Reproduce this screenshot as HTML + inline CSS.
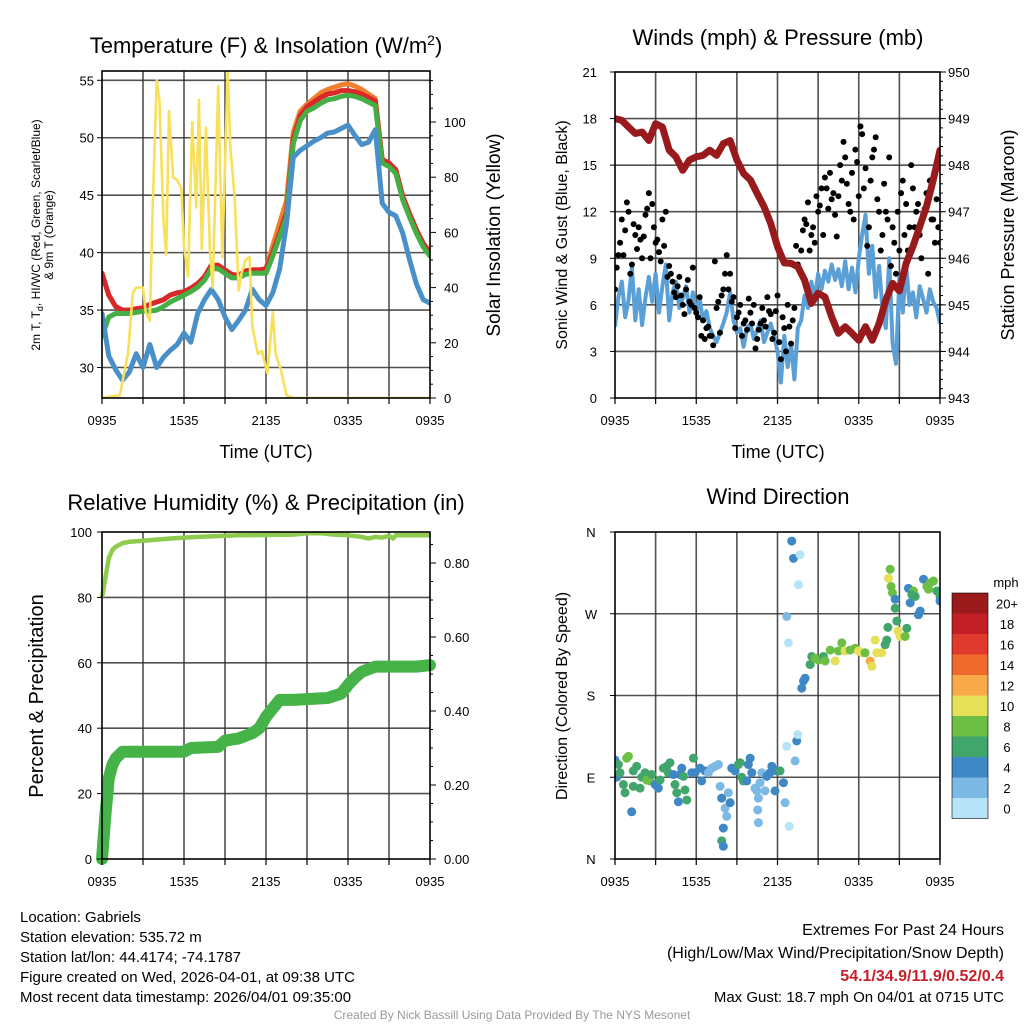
<!DOCTYPE html>
<html><head><meta charset="utf-8">
<style>
html,body{margin:0;padding:0;background:#fff;}
svg{display:block;font-family:"Liberation Sans",sans-serif;}
</style></head>
<body>
<svg id="c" width="1024" height="1024" viewBox="0 0 1024 1024"></svg>
<script>
// ---------- DATA ----------
const xTickLabels = ["0935","1535","2135","0335","0935"];
const xTickHours = [0,6,12,18,24];
// Temperature panel (0.5h step)
const tempGreen = [32.7,34.4,34.7,34.7,34.7,34.8,34.9,34.9,35.0,35.3,35.7,36.0,36.3,36.6,37.0,37.6,38.6,38.6,38.2,37.8,37.8,38.1,38.2,38.2,38.2,39.7,41.4,43.1,49.5,51.5,52.3,52.6,53.0,53.3,53.4,53.6,53.7,53.6,53.4,53.1,52.8,47.8,47.5,46.9,44.6,43.1,41.7,40.5,39.7];
const tempRed = [38.2,36.3,35.3,35.0,35.0,35.1,35.2,35.5,35.7,35.9,36.3,36.5,36.6,36.9,37.3,37.9,38.9,38.9,38.5,38.1,38.0,38.4,38.5,38.5,38.6,40.0,41.7,43.5,49.9,51.9,52.7,53.1,53.5,53.8,53.9,54.1,54.1,54.0,53.8,53.5,53.2,48.1,47.8,47.2,44.9,43.4,42.0,40.8,40.0];
const tempOrange = [38.2,36.3,35.3,35.0,35.0,35.1,35.2,35.5,35.7,35.9,36.3,36.5,36.6,36.9,37.3,37.9,38.9,38.9,38.5,38.1,38.0,38.4,38.5,38.5,38.6,40.6,42.6,44.5,50.5,52.3,52.9,53.4,53.9,54.2,54.4,54.6,54.7,54.5,54.2,53.8,53.4,48.1,47.8,47.2,44.9,43.4,42.0,40.8,40.0];
const dewBlue = [34.7,31.0,29.8,28.9,29.6,31.2,30.0,32.0,30.0,30.9,31.5,32.0,33.0,32.2,34.7,35.9,36.8,35.9,34.4,33.3,34.1,35.0,36.8,35.9,35.4,36.5,38.6,42.5,48.3,48.9,49.3,49.7,50.0,50.4,50.5,50.8,51.1,50.2,49.4,49.6,50.7,44.3,43.5,43.2,41.7,39.4,37.3,35.9,35.6];
const solarHours = [0,1.3,1.9,2.25,2.5,3,3.2,3.5,3.7,4,4.2,4.5,4.7,4.9,5.2,5.5,5.8,6,6.3,6.6,6.9,7.1,7.3,7.6,7.9,8.1,8.5,8.8,9.2,9.4,9.7,10,10.2,10.5,10.8,11,11.4,11.7,12.1,12.5,12.7,13.1,13.5,14,24];
const solarValues = [0,1,16,38,40,40,31,28,68,115,108,64,52,104,80,79,76,55,44,100,69,108,54,98,53,40,113,51,118,90,73,39,45,50,51,26,16,17,9,31,16,10,1,0,0];
const tempTicks = [30,35,40,45,50,55];
const solarTicks = [0,20,40,60,80,100];
// Winds panel
const windSpeed = [4.6,6.5,7.5,5.2,6.3,8.4,5.0,7.0,4.7,
6.5,7.8,6.2,8.0,5.5,7.2,8.6,5.0,
6.8,7.5,5.8,6.4,7.2,5.5,6.8,5.4,
6.4,5.0,5.6,4.5,4.0,3.6,4.2,4.8,
5.5,6.8,5.0,4.2,4.5,3.3,4.5,4.8,
3.8,4.4,5.0,3.6,4.2,4.8,4.0,3.0,
1.0,4.0,2.0,3.5,1.2,4.5,5.0,6.6,
5.8,7.5,6.4,8.0,7.0,8.2,7.5,8.6,
7.6,8.3,7.2,8.8,7.0,8.4,6.8,9.0,
10.5,11.8,8.0,9.8,6.5,8.5,5.8,4.5,
9.0,3.5,2.2,7.8,5.5,8.6,6.0,6.8,
5.2,7.2,6.4,5.5,7.0,6.2,5.8,4.8];
const gustA = [7.0,9.2,11.5,10.8,12.0,8.6,10.5,11.0,9.0,
11.8,13.2,12.5,10.0,9.4,11.5,12.0,8.5,
7.5,6.5,7.8,6.0,7.0,6.2,8.4,5.5,
6.5,5.0,4.5,4.0,3.4,5.8,4.2,7.0,
9.2,8.0,6.5,5.2,6.0,4.8,4.4,5.5,
6.0,3.8,4.8,5.0,6.5,5.4,4.2,6.6,
2.5,4.5,6.0,3.5,5.8,8.6,9.5,11.5,
12.6,10.5,10.0,12.0,13.5,14.2,12.2,12.8,
11.8,13.0,14.0,15.5,12.5,14.5,16.0,13.0,
17.0,14.8,11.0,15.5,16.8,12.0,10.5,12.0,
15.5,11.0,8.0,9.5,14.0,12.5,11.0,13.5,
12.0,10.5,11.8,13.2,14.0,11.5,12.8,10.0];
const gustB = [8.4,10.0,9.2,12.6,8.0,11.2,9.6,10.2,
10.4,12.2,9.0,11.0,10.2,8.8,9.8,7.8,
8.0,6.8,7.2,6.6,5.4,7.6,6.0,5.8,
5.2,4.0,3.8,4.6,4.0,8.8,6.2,6.6,
8.0,7.0,6.2,4.5,5.5,4.0,5.0,6.4,
4.8,3.2,4.4,5.8,4.6,5.6,3.8,5.6,
3.6,5.2,3.0,4.6,5.0,9.8,8.2,10.8,
11.2,9.5,11.0,13.0,12.4,10.5,13.5,14.5,
13.2,10.4,15.0,16.5,13.8,12.0,11.5,15.2,
17.5,13.5,9.8,14.0,16.0,12.8,9.5,13.8,
11.5,8.5,10.0,12.0,13.2,10.5,9.5,15.0,
11.0,12.5,9.0,12.2,8.0,11.5,10.0,11.0];
const pressure = [949.0,948.96,948.82,948.68,948.71,948.53,948.89,948.82,948.32,948.18,947.89,948.11,948.18,948.21,948.32,948.21,948.46,948.53,948.11,947.82,947.68,947.39,947.11,946.75,946.25,945.9,945.89,945.82,945.53,945.03,945.25,945.17,944.74,944.39,944.53,944.39,944.24,944.53,944.24,944.60,945.10,945.46,945.3,945.89,946.25,946.68,947.11,947.68,948.32];
const windTicks = [0,3,6,9,12,15,18,21];
const presTicks = [943,944,945,946,947,948,949,950];
// RH / precip panel
const rhHours = [0,0.25,0.5,0.75,1,1.5,2,3,5,7,10,14,15,16,17,18,19,19.5,20,20.5,21,21.3,21.5,22,24];
const rhValues = [80,86,92,94.5,95.5,96.6,97,97.3,98,98.5,99,99.2,99.6,99.6,99.2,99,98.5,98,98.5,98.3,98.8,98,99,99,99];
const pcpHours = [0,0.25,0.5,0.75,1,1.5,6,6.5,8.5,9,10,11,11.5,12,12.5,13,14,16.5,17.5,18,18.5,19,20,23,24];
const pcpValues = [0,0.119,0.218,0.254,0.272,0.29,0.29,0.30,0.303,0.32,0.326,0.34,0.353,0.384,0.407,0.43,0.43,0.435,0.447,0.47,0.49,0.506,0.52,0.52,0.524];
const rhTicks = [0,20,40,60,80,100];
const pcpTicks = [0,0.2,0.4,0.6,0.8];
// Wind direction panel
const dirHours = [0,0.25,0.12,0.37,0.86,0.99,0.62,0.74,1.23,1.35,1.6,1.35,1.85,1.97,2.22,2.34,2.59,2.71,2.96,3.2,3.33,3.57,3.82,3.94,4.06,4.31,4.43,4.56,4.68,4.8,5.05,5.17,5.3,4.93,5.67,5.79,5.91,6.28,6.4,6.65,6.9,7.14,7.39,7.64,7.76,7.88,8.13,8.25,8.37,8.5,8.0,7.88,8.0,8.62,8.87,9.11,9.24,9.36,9.48,9.73,9.85,9.98,10.1,10.34,10.47,10.59,10.71,10.84,10.54,10.59,11.08,11.21,11.45,11.58,11.82,11.95,12.19,12.44,12.56,12.68,12.86,13.3,13.42,13.5,12.68,12.81,13.05,13.18,13.67,13.55,14.04,13.92,13.79,14.41,14.53,14.78,15.02,15.39,15.52,15.89,16.26,16.75,16.5,16.99,17.36,17.73,17.98,18.23,18.47,18.84,18.97,19.21,19.33,19.7,19.95,20.07,20.15,20.89,21.06,21.43,21.55,20.69,20.81,20.32,20.2,20.39,20.49,20.69,21.67,21.8,22.04,22.17,22.41,22.54,22.78,23.03,23.28,23.52,23.77,24.0,24.0,22.41,21.92,23.15];
const dirDegrees = [109,104,90,95,111,113,82,73,52,97,102,80,78,90,95,87,86,93,82,78,87,100,102,95,106,93,82,73,63,93,91,76,65,100,95,111,95,100,86,97,95,100,102,104,80,67,56,47,73,62,34,20,14,100,97,104,106,90,86,86,104,111,95,78,75,67,84,95,54,40,75,91,95,102,75,97,97,84,62,124,36,108,130,137,267,238,350,331,335,302,199,196,188,214,223,221,219,223,218,230,218,238,229,229,230,232,229,227,227,218,212,241,227,227,236,241,255,251,245,245,254,276,262,319,309,300,293,286,298,282,295,289,269,273,308,300,304,306,295,289,284,269,291,297];
const dirSpeed = [4,6,4,6,8,8,6,6,4,6,6,6,6,6,6,8,8,6,4,4,6,6,6,6,6,4,6,6,4,4,6,6,6,4,4,6,4,4,4,4,2,2,2,2,2,4,2,2,2,4,4,6,4,4,4,6,6,6,6,4,4,4,4,2,2,2,2,2,2,2,2,4,4,4,4,4,6,4,2,0,0,2,4,0,2,0,4,4,0,0,4,4,4,6,6,8,8,6,8,8,10,8,8,10,8,8,10,10,8,12,10,10,10,10,6,6,6,10,10,8,6,6,6,8,10,8,8,4,4,4,8,6,4,4,4,8,8,8,6,6,4,4,6,8,8];
const dirTickLabels = ["N","E","S","W","N"];
const dirTickValues = [0,90,180,270,360];
const speedColors = ["#b6e3f7","#7cb9e4","#3f88c6","#41a66b","#6cbe45","#e6df58","#f8aa49","#ef6b2d","#e0392e","#c21f26","#9b1b1c"];
const speedLabels = ["0","2","4","6","8","10","12","14","16","18","20+"];

// ---------- HELPERS ----------
const NS="http://www.w3.org/2000/svg";
const svg=document.getElementById('c');
function el(tag,attrs,parent){const e=document.createElementNS(NS,tag);for(const k in attrs)e.setAttribute(k,attrs[k]);(parent||svg).appendChild(e);return e;}
function txt(s,x,y,size,anchor,parent,extra){const t=el('text',Object.assign({x:x,y:y,'font-size':size,'text-anchor':anchor||'middle',fill:'#000'},extra||{}),parent);t.textContent=s;return t;}
function lin(d0,d1,r0,r1){return v=>r0+(v-d0)*(r1-r0)/(d1-d0);}

function frame(g,L,T,R,B,vgrid,hgridYs){
  vgrid.forEach(x=>{const l=el('line',{x1:x,x2:x,y1:T,y2:B,stroke:'#333','stroke-width':1.6,'stroke-opacity':0.85},g);
    });
  hgridYs.forEach(y=>{const l=el('line',{x1:L,x2:R,y1:y,y2:y,stroke:'#333','stroke-width':1.6,'stroke-opacity':0.85},g);
    });
}
function border(g,L,T,R,B){const r=el('rect',{x:L,y:T,width:R-L,height:B-T,fill:'none',stroke:'#000','stroke-width':1.6},g);
  }
function xAxis(g,L,R,B,xs){
  xTickHours.forEach((h,i)=>{txt(xTickLabels[i],xs(h),B+27,13,'middle',g);});
  for(let h=0;h<=24;h+=3){el('line',{x1:xs(h),x2:xs(h),y1:B,y2:B+6,stroke:'#000','stroke-width':1.2},g);}
}
function pathFrom(xsArr,ysArr,xs,ys){let d='';xsArr.forEach((h,i)=>{d+=(i?'L':'M')+xs(h).toFixed(1)+','+ys(ysArr[i]).toFixed(1);});return d;}
const halfHours=tempGreen.map((_,i)=>i*0.5);

// ---------- PANEL 1 ----------
(function(){
  const L=102,R=430,T=71,B=398;
  const g=el('g',{});
  const xs=lin(0,24,L,R), ys=lin(30,55,367.5,80.3), ysR=lin(0,100,398,122);
  frame(g,L,T,R,B,[1,2,3,4,5,6,7].map(i=>xs(i*3)),tempTicks.map(ys));
  const clip=el('clipPath',{id:'cp1'},g);el('rect',{x:L,y:T,width:R-L,height:B-T},clip);
  const pg=el('g',{'clip-path':'url(#cp1)'},g);
  [[tempOrange,'#f07f2e','orange-9m-temp-line'],[tempRed,'#d8282a','red-2m-temp-line'],[tempGreen,'#45ae45','green-heat-index-line'],[dewBlue,'#4a90c8','blue-dewpoint-line']].forEach(s=>{
    const p=el('path',{d:pathFrom(halfHours,s[0],xs,ys),fill:'none',stroke:s[1],'stroke-width':5,'stroke-linejoin':'round','stroke-linecap':'round'},pg);
    
  });
  const sp=el('path',{d:pathFrom(solarHours,solarValues,xs,ysR),fill:'none',stroke:'#f8e05a','stroke-width':2.6,'stroke-linejoin':'round'},pg);
  
  border(g,L,T,R,B);
  tempTicks.forEach(v=>{txt(String(v),94,ys(v)+5,13,'end',g);el('line',{x1:L-5,x2:L,y1:ys(v),y2:ys(v),stroke:'#000'},g);});
  solarTicks.forEach(v=>{txt(String(v),444,ysR(v)+5,13,'start',g);el('line',{x1:R,x2:R+6,y1:ysR(v),y2:ysR(v),stroke:'#000'},g);});
  for(let v=5;v<=115;v+=5){if(v%20)el('line',{x1:R,x2:R+3,y1:ysR(v),y2:ysR(v),stroke:'#000'},g);}
  xAxis(g,L,R,B,xs);
  const t=el('text',{x:266,y:53,'font-size':22,'text-anchor':'middle'},g);
  t.innerHTML='Temperature (F) &amp; Insolation (W/m<tspan dy="-8" font-size="14">2</tspan><tspan dy="8">)</tspan>';
  const xl=txt('Time (UTC)',266,458,18,'middle',g);
  const yl=el('text',{transform:'translate(40,235) rotate(-90)','font-size':12,'text-anchor':'middle'},g);
  
  yl.innerHTML='2m T, T<tspan dy="3" font-size="9">d</tspan><tspan dy="-3">, HI/WC (Red, Green, Scarlet/Blue)</tspan>';
  const yl2=el('text',{transform:'translate(53,235) rotate(-90)','font-size':12,'text-anchor':'middle'},g);yl2.textContent='& 9m T (Orange)';
  
  const yr=el('text',{transform:'translate(500,235) rotate(-90)','font-size':19,'text-anchor':'middle'},g);yr.textContent='Solar Insolation (Yellow)';
  
})();

// ---------- PANEL 2 ----------
(function(){
  const L=615,R=940,T=72,B=398;
  const g=el('g',{});
  const xs=lin(0,24,L,R), ys=lin(0,21,B,T), ysR=lin(943,950,B,T);
  frame(g,L,T,R,B,[1,2,3,4,5,6,7].map(i=>xs(i*3)),windTicks.slice(1,7).map(ys));
  const clip=el('clipPath',{id:'cp2'},g);el('rect',{x:L,y:T,width:R-L,height:B-T},clip);
  const pg=el('g',{'clip-path':'url(#cp2)'},g);
  const wh=windSpeed.map((_,i)=>i*0.25);
  const wp=el('path',{d:pathFrom(wh,windSpeed,xs,ys),fill:'none',stroke:'#5a9fd6','stroke-width':4,'stroke-linejoin':'round'},pg);
  
  gustA.forEach((v,i)=>{const c=el('circle',{cx:xs(i*0.25),cy:ys(v),r:3,fill:'#000'},pg);
    });
  gustB.forEach((v,i)=>{const c=el('circle',{cx:xs(0.125+i*0.25),cy:ys(v),r:3,fill:'#000'},pg);
    });
  const pp=el('path',{d:pathFrom(halfHours,pressure,xs,ysR),fill:'none',stroke:'#981a1d','stroke-width':7,'stroke-linejoin':'round','stroke-linecap':'round'},pg);
  
  border(g,L,T,R,B);
  windTicks.forEach(v=>{txt(String(v),597,ys(v)+5,13,'end',g);el('line',{x1:L-5,x2:L,y1:ys(v),y2:ys(v),stroke:'#000'},g);});
  presTicks.forEach(v=>{txt(String(v),948,ysR(v)+5,13,'start',g);el('line',{x1:R,x2:R+6,y1:ysR(v),y2:ysR(v),stroke:'#000'},g);});
  for(let v=943.2;v<950;v+=0.2){el('line',{x1:R,x2:R+3,y1:ysR(v),y2:ysR(v),stroke:'#000'},g);}
  xAxis(g,L,R,B,xs);
  txt('Winds (mph) & Pressure (mb)',778,45,22,'middle',g);
  txt('Time (UTC)',778,458,18,'middle',g);
  const yl=el('text',{transform:'translate(567,235) rotate(-90)','font-size':16,'text-anchor':'middle'},g);yl.textContent='Sonic Wind & Gust (Blue, Black)';
  
  const yr=el('text',{transform:'translate(1014,235) rotate(-90)','font-size':18,'text-anchor':'middle'},g);yr.textContent='Station Pressure (Maroon)';
  
})();

// ---------- PANEL 3 ----------
(function(){
  const L=102,R=430,T=532,B=859;
  const g=el('g',{});
  const xs=lin(0,24,L,R), ys=lin(0,100,B,T), ysR=lin(0,0.8,B,563);
  frame(g,L,T,R,B,[1,2,3,4,5,6,7].map(i=>xs(i*3)),[20,40,60,80].map(ys));
  const clip=el('clipPath',{id:'cp3'},g);el('rect',{x:L-8,y:T,width:R-L+16,height:B-T+8},clip);
  const pg=el('g',{'clip-path':'url(#cp3)'},g);
  const pc=el('path',{d:pathFrom(pcpHours,pcpValues,xs,ysR),fill:'none',stroke:'#46b349','stroke-width':12,'stroke-linejoin':'round','stroke-linecap':'round'},pg);
  
  const rh=el('path',{d:pathFrom(rhHours,rhValues,xs,ys),fill:'none',stroke:'#8fcb4e','stroke-width':4.5,'stroke-linejoin':'round'},pg);
  
  border(g,L,T,R,B);
  rhTicks.forEach(v=>{txt(String(v),92,ys(v)+5,13,'end',g);el('line',{x1:L-5,x2:L,y1:ys(v),y2:ys(v),stroke:'#000'},g);});
  pcpTicks.forEach(v=>{txt(v.toFixed(2),444,ysR(v)+5,13,'start',g);el('line',{x1:R,x2:R+6,y1:ysR(v),y2:ysR(v),stroke:'#000'},g);});
  for(let v=0.05;v<0.88;v+=0.05){el('line',{x1:R,x2:R+3,y1:ysR(v),y2:ysR(v),stroke:'#000'},g);}
  xAxis(g,L,R,B,xs);
  txt('Relative Humidity (%) & Precipitation (in)',266,510,22,'middle',g);
  const yl=el('text',{transform:'translate(43,696) rotate(-90)','font-size':20,'text-anchor':'middle'},g);yl.textContent='Percent & Precipitation';
  
})();

// ---------- PANEL 4 ----------
(function(){
  const L=615,R=940,T=532,B=859;
  const g=el('g',{});
  const xs=lin(0,24,L,R), ys=lin(0,360,B,T);
  frame(g,L,T,R,B,[1,2,3,4,5,6,7].map(i=>xs(i*3)),[90,180,270].map(ys));
  const clip=el('clipPath',{id:'cp4'},g);el('rect',{x:L,y:T,width:R-L,height:B-T},clip);
  const pg=el('g',{'clip-path':'url(#cp4)'},g);
  dirHours.forEach((h,i)=>{const sp=dirSpeed[i];const ci=Math.min(10,Math.round(sp/2));
    const c=el('circle',{cx:xs(h),cy:ys(dirDegrees[i]),r:4.5,fill:speedColors[ci]},pg);
    });
  border(g,L,T,R,B);
  dirTickValues.forEach((v,i)=>{txt(dirTickLabels[i],591,ys(v)+5,13,'middle',g);el('line',{x1:L-5,x2:L,y1:ys(v),y2:ys(v),stroke:'#000'},g);});
  xAxis(g,L,R,B,xs);
  txt('Wind Direction',778,504,22,'middle',g);
  const yl=el('text',{transform:'translate(567,696) rotate(-90)','font-size':16,'text-anchor':'middle'},g);yl.textContent='Direction (Colored By Speed)';
  
  // colorbar
  const cb=el('g',{},g);
  const top=593,h=20.5;
  for(let i=0;i<11;i++){const idx=10-i;
    const r=el('rect',{x:952,y:top+i*h,width:36,height:h,fill:speedColors[idx]},cb);
    
    txt(speedLabels[idx],1007,top+i*h+h/2+5,13,'middle',cb);}
  el('rect',{x:952,y:top,width:36,height:11*h,fill:'none',stroke:'#000','stroke-width':0.6},cb);
  txt('mph',1006,587,13,'middle',cb);
})();

// ---------- FOOTER TEXT ----------
(function(){
  const g=el('g',{});
  ["Location: Gabriels","Station elevation: 535.72 m","Station lat/lon: 44.4174; -74.1787","Figure created on Wed, 2026-04-01, at 09:38 UTC","Most recent data timestamp: 2026/04/01 09:35:00"].forEach((s,i)=>{
    txt(s,20,922+i*20,15,'start',g);});
  const g2=el('g',{});
  txt('Extremes For Past 24 Hours',1004,935,16,'end',g2);
  txt('(High/Low/Max Wind/Precipitation/Snow Depth)',1004,958,16,'end',g2);
  txt('54.1/34.9/11.9/0.52/0.4',1004,981,16,'end',g2,{fill:'#c8202a','font-weight':'bold'});
  txt('Max Gust: 18.7 mph On 04/01 at 0715 UTC',1004,1002,15,'end',g2);
  txt('Created By Nick Bassill Using Data Provided By The NYS Mesonet',512,1019,12,'middle',svg,{fill:'#999'});
})();
</script>
</body></html>
